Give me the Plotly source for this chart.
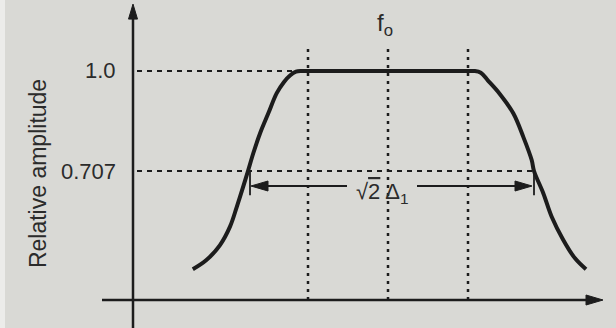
import plotly.graph_objects as go

# Band-pass response: normalised frequency (f - fo)/Δ against relative amplitude
freq = [-2.44, -2.27, -2.10, -1.975, -1.89, -1.81, -1.75, -1.684, -1.60, -1.496,
        -1.391, -1.30, -1.225, -1.15, -1.08, -1.0, -0.5, 0.0, 0.5, 1.0, 1.08, 1.16,
        1.25, 1.39, 1.566, 1.691, 1.796, 1.825, 1.941, 2.046, 2.191, 2.338, 2.475]
amp = [0.419, 0.446, 0.490, 0.544, 0.602, 0.661, 0.707, 0.759, 0.817, 0.876,
       0.935, 0.968, 0.987, 0.998, 1.0, 1.0, 1.0, 1.0, 1.0, 1.0, 1.0, 0.995,
       0.972, 0.935, 0.876, 0.807, 0.739, 0.707, 0.642, 0.573, 0.505, 0.451, 0.419]

level_values = [1.0, 0.707]
level_labels = ["1.0", "0.707"]
level_ends = [-1.14, 1.80]          # where each dashed level meets the curve
band_marks = [-1.0, 0.0, 1.0]       # passband edges and centre fo
half_power = [-1.725, 1.825]        # 0.707 crossing points (√2 Δ1 span)

INK = "#1c1c1c"
TXT = "#2b2b2b"
BG = "#d9d9d5"
FONT = "Liberation Sans, Arial, sans-serif"

# axis geometry (data units)
X_MIN, X_MAX = -4.85, 2.85
Y_MIN, Y_MAX = 0.247, 1.208
Y_AXIS_X = -3.1875
X_AXIS_Y = 0.329
AX_LEFT, AX_RIGHT = -3.575, 2.6875
AY_TOP = 1.196
PX_X = 1 / 80.0        # data units per pixel, horizontal
PX_Y = 0.00293         # data units per pixel, vertical

fig = go.Figure()
fig.add_trace(go.Scatter(x=freq, y=amp, mode="lines",
                         line=dict(color=INK, width=4, shape="spline", smoothing=1.0),
                         hoverinfo="skip", showlegend=False))

shapes = []
# pale border strip along the left edge of the page
shapes.append(dict(type="rect", xref="paper", yref="paper", x0=0, x1=5 / 616, y0=0, y1=1,
                   fillcolor="#ececea", line=dict(width=0), layer="below"))
# axes
shapes.append(dict(type="line", x0=Y_AXIS_X, x1=Y_AXIS_X, y0=Y_MIN - 0.05, y1=AY_TOP - 10 * PX_Y,
                   line=dict(color=INK, width=2.5)))
shapes.append(dict(type="line", x0=AX_LEFT, x1=AX_RIGHT - 10 * PX_X, y0=X_AXIS_Y, y1=X_AXIS_Y,
                   line=dict(color=INK, width=2.5)))
# arrowheads on axes
shapes.append(dict(type="path", path=(f"M {Y_AXIS_X} {AY_TOP} L {Y_AXIS_X - 4.5 * PX_X} {AY_TOP - 15 * PX_Y} "
                                       f"L {Y_AXIS_X + 4.5 * PX_X} {AY_TOP - 15 * PX_Y} Z"),
                   fillcolor=INK, line=dict(color=INK, width=1)))
shapes.append(dict(type="path", path=(f"M {AX_RIGHT} {X_AXIS_Y} L {AX_RIGHT - 17 * PX_X} {X_AXIS_Y + 5 * PX_Y} "
                                       f"L {AX_RIGHT - 17 * PX_X} {X_AXIS_Y - 5 * PX_Y} Z"),
                   fillcolor=INK, line=dict(color=INK, width=1)))

# dashed amplitude levels
for lv, end in zip(level_values, level_ends):
    shapes.append(dict(type="line", x0=Y_AXIS_X + 4 * PX_X, x1=end, y0=lv, y1=lv,
                       line=dict(color=INK, width=2.2, dash="5px,5px")))

# dotted verticals at band edges and fo
for bx in band_marks:
    shapes.append(dict(type="line", x0=bx, x1=bx, y0=X_AXIS_Y, y1=1.070,
                       line=dict(color=INK, width=2.5, dash="3px,5px")))

# √2 Δ1 dimension arrow
arrow_y = 0.663
gap_l, gap_r = -0.5125, 0.3625
left, right = half_power
shapes.append(dict(type="line", x0=left + 16 * PX_X, x1=gap_l, y0=arrow_y, y1=arrow_y,
                   line=dict(color=INK, width=2)))
shapes.append(dict(type="line", x0=gap_r, x1=right - 18 * PX_X, y0=arrow_y, y1=arrow_y,
                   line=dict(color=INK, width=2)))
shapes.append(dict(type="path", path=(f"M {left + 1 * PX_X} {arrow_y} L {left + 18 * PX_X} {arrow_y + 5 * PX_Y} "
                                       f"L {left + 18 * PX_X} {arrow_y - 5 * PX_Y} Z"),
                   fillcolor=INK, line=dict(color=INK, width=1)))
shapes.append(dict(type="path", path=(f"M {right - 2 * PX_X} {arrow_y} L {right - 19 * PX_X} {arrow_y + 5 * PX_Y} "
                                       f"L {right - 19 * PX_X} {arrow_y - 5 * PX_Y} Z"),
                   fillcolor=INK, line=dict(color=INK, width=1)))
for hx in half_power:
    shapes.append(dict(type="line", x0=hx, x1=hx, y0=0.636, y1=0.706,
                       line=dict(color=INK, width=1.8)))

annotations = []
for lv, lab in zip(level_values, level_labels):
    annotations.append(dict(x=-3.375, y=lv, text=lab, showarrow=False, xanchor="right",
                            yanchor="middle", font=dict(family=FONT, size=22, color=TXT)))
annotations.append(dict(x=-4.375, y=0.698, text="Relative amplitude", textangle=-90,
                        showarrow=False, xanchor="center", yanchor="middle",
                        font=dict(family=FONT, size=23, color=TXT)))
annotations.append(dict(x=-0.04, y=1.135, text="f<sub>o</sub>", showarrow=False,
                        xanchor="center", yanchor="middle",
                        font=dict(family=FONT, size=24, color=TXT)))
annotations.append(dict(x=-0.07, y=0.643,
                        text="√<span style='text-decoration:overline'>2</span> Δ<sub>1</sub>",
                        showarrow=False, xanchor="center", yanchor="middle",
                        font=dict(family=FONT, size=22, color=TXT)))

fig.update_layout(
    width=616, height=328,
    margin=dict(l=0, r=0, t=0, b=0),
    paper_bgcolor=BG, plot_bgcolor=BG,
    xaxis=dict(range=[X_MIN, X_MAX], visible=False, fixedrange=True),
    yaxis=dict(range=[Y_MIN, Y_MAX], visible=False, fixedrange=True),
    shapes=shapes, annotations=annotations,
    showlegend=False,
)

fig.write_html("out.html", config={"displayModeBar": False})
